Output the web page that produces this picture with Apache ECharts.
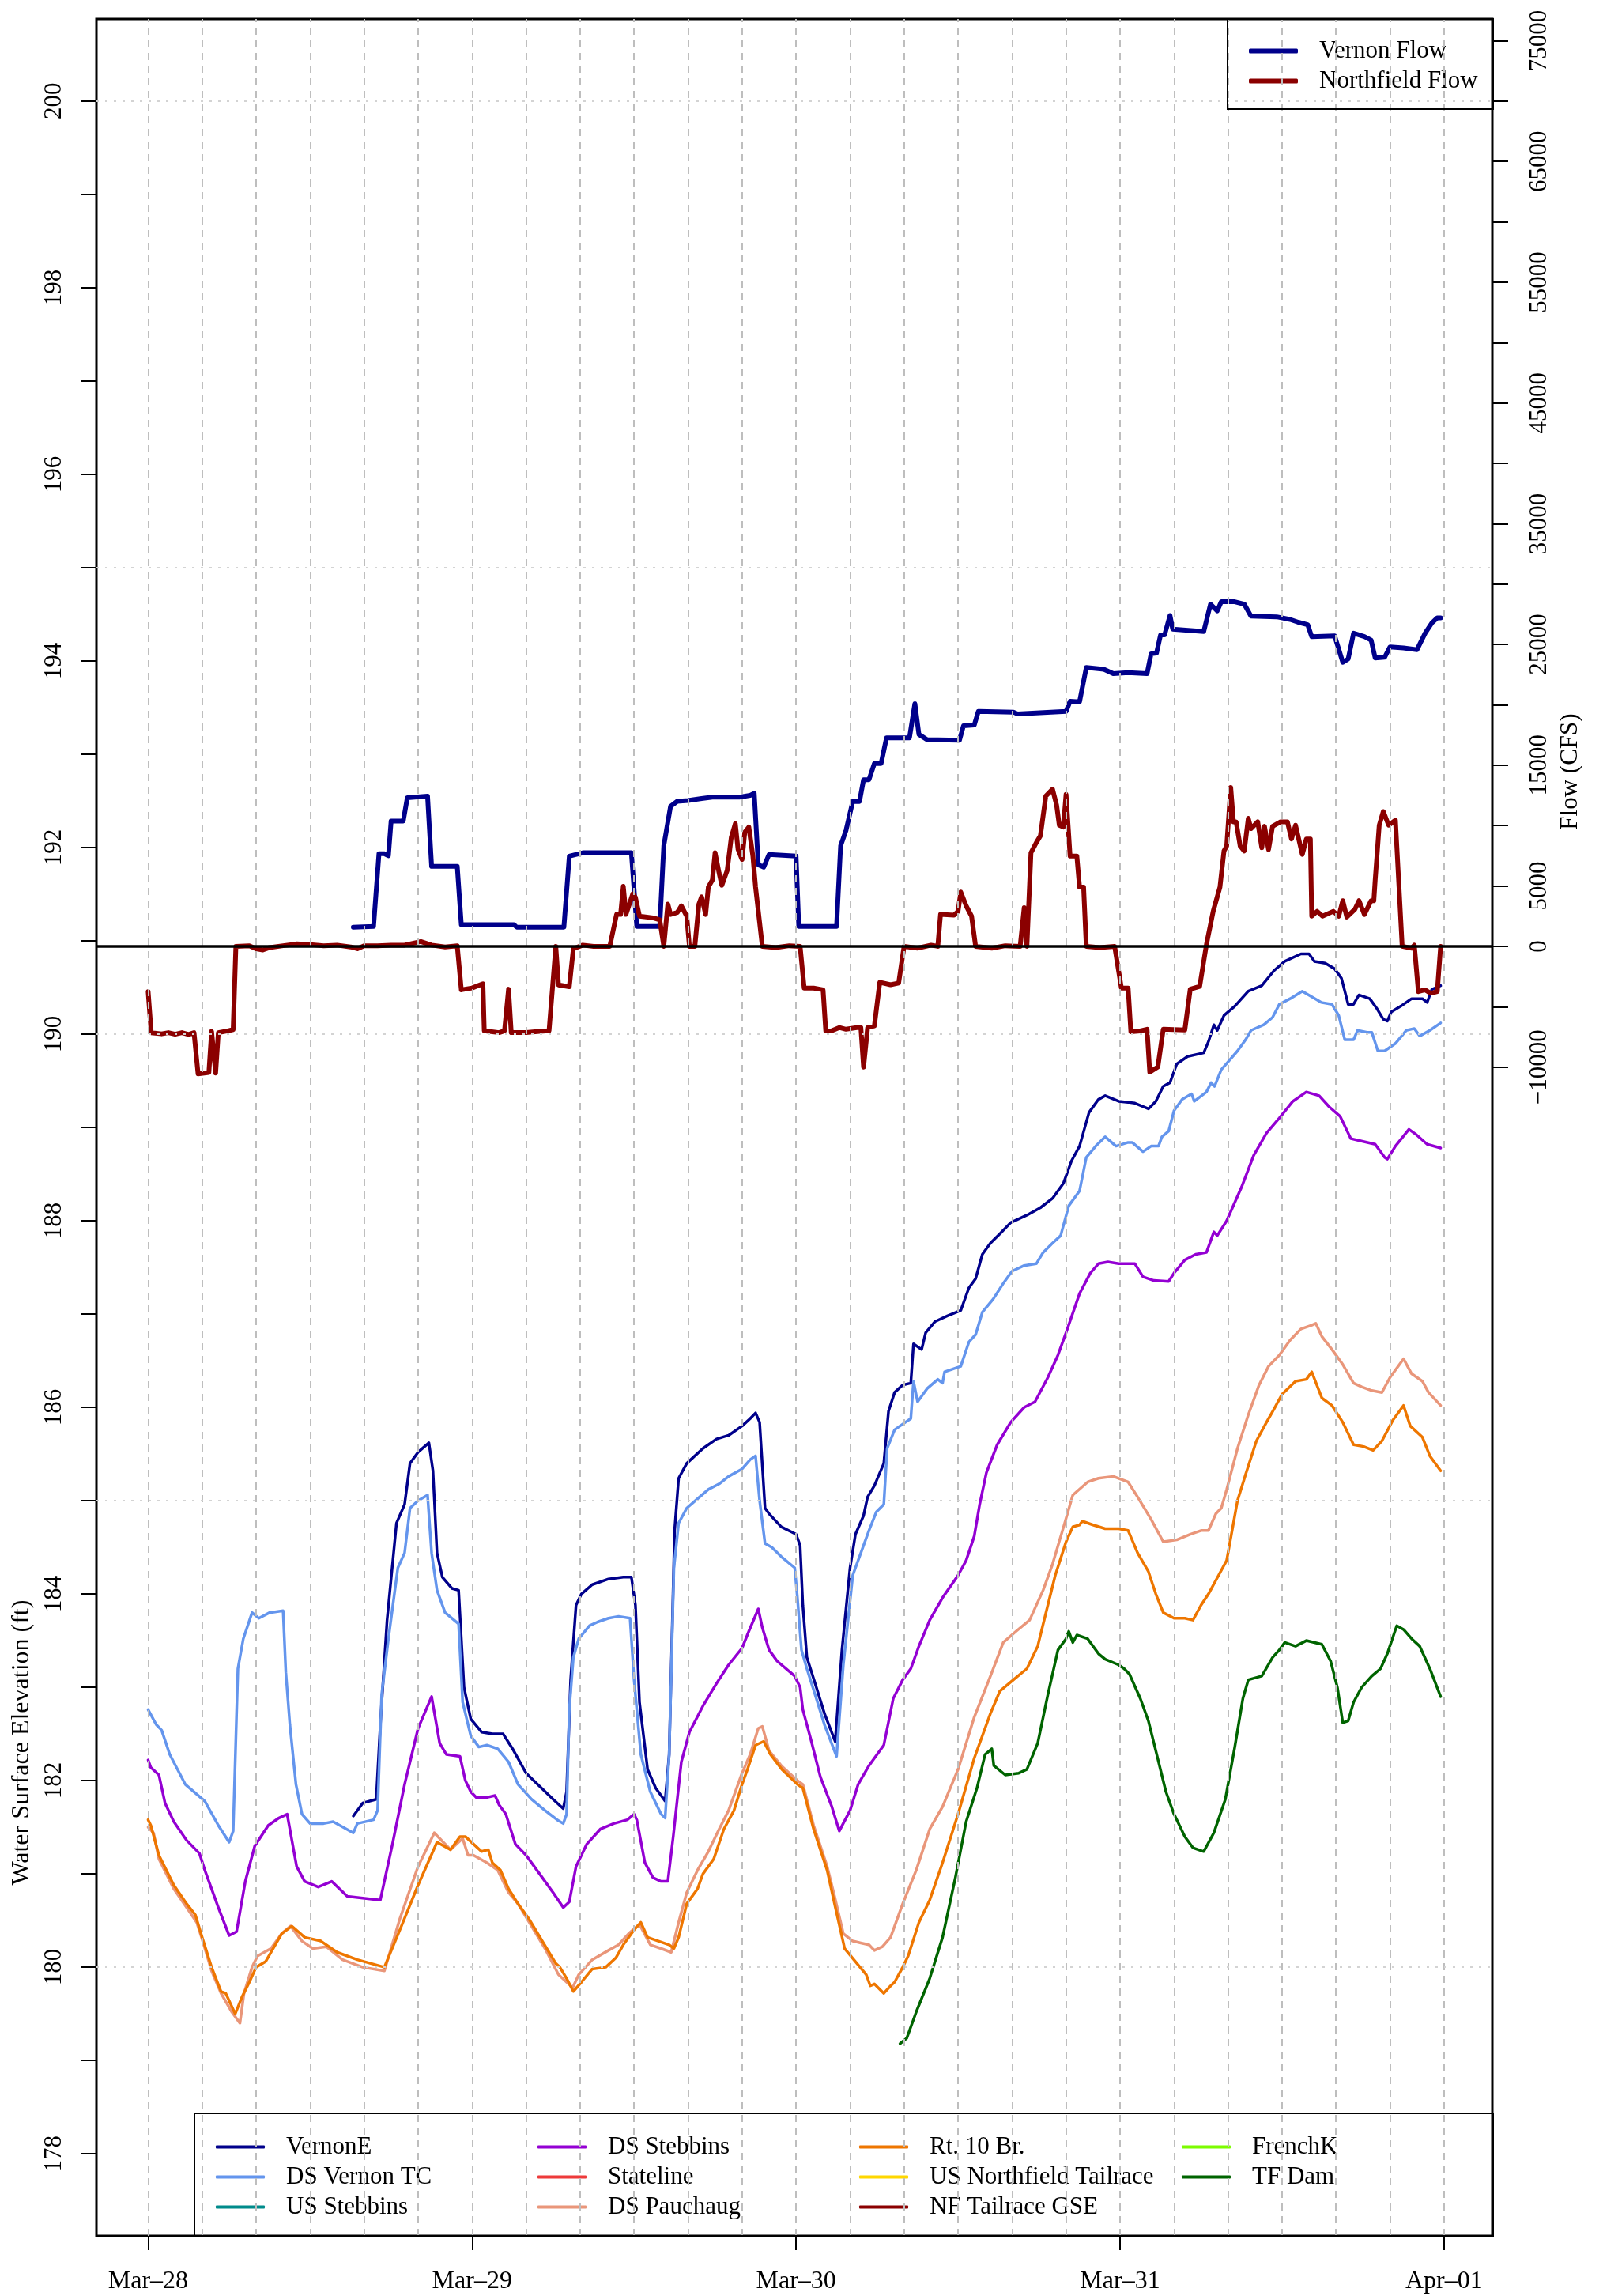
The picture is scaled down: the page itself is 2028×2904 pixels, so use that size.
<!DOCTYPE html>
<html><head><meta charset="utf-8">
<script src="https://cdn.jsdelivr.net/npm/echarts@6/dist/echarts.min.js"></script>
<style>html,body{margin:0;padding:0;background:#fff}#c{width:2028px;height:2904px}</style>
</head><body><div id="c"></div><script>
// ---------- DATA (time in hours from Mar-28 00:00) ----------
const xTickHours = [0, 24, 48, 72, 96];
const xTickLabels = ['Mar–28', 'Mar–29', 'Mar–30', 'Mar–31', 'Apr–01'];
const xGridHours = [0,4,8,12,16,20,24,28,32,36,40,44,48,52,56,60,64,68,72,76,80,84,88,92,96];
const elevTickVals = [178,179,180,181,182,183,184,185,186,187,188,189,190,191,192,193,194,195,196,197,198,199,200];
const elevLabelVals = [178,180,182,184,186,188,190,192,194,196,198,200];
const elevGridVals = [180,185,190,195,200];
const flowTickVals = [-10000,-5000,0,5000,10000,15000,20000,25000,30000,35000,40000,45000,50000,55000,60000,65000,70000,75000];
const flowLabelVals = [-10000,0,5000,15000,25000,35000,45000,55000,65000,75000];

const vernonFlow = [[15.2,1590],[16.7,1650],[17.1,7670],[17.5,7670],[17.8,7500],[18.0,10370],[18.9,10370],[19.2,12300],[20.7,12440],[21.0,6620],[22.9,6620],[23.2,1790],[25.0,1790],[26.5,1800],[27.1,1790],[27.3,1590],[30.8,1590],[31.2,7470],[32.2,7750],[35.8,7750],[36.2,1650],[37.9,1650],[38.2,8320],[38.7,11590],[39.2,12010],[40.0,12070],[41.0,12240],[41.8,12350],[43.8,12350],[44.6,12500],[44.9,12670],[45.2,6760],[45.6,6560],[46.0,7610],[48.0,7470],[48.2,1650],[51.0,1650],[51.3,8320],[51.7,9600],[52.2,12000],[52.7,12000],[53.0,13800],[53.4,13800],[53.8,15140],[54.3,15140],[54.7,17270],[56.4,17270],[56.8,20100],[57.1,17550],[57.7,17120],[60.1,17060],[60.4,18260],[61.2,18320],[61.5,19450],[64.1,19400],[64.4,19250],[68.0,19450],[68.3,20300],[69.0,20250],[69.5,23090],[70.8,22950],[71.5,22580],[72.6,22670],[74.0,22580],[74.3,24230],[74.7,24280],[75.0,25790],[75.3,25790],[75.7,27400],[75.9,26270],[78.2,26070],[78.7,28340],[79.2,27780],[79.5,28540],[80.5,28540],[81.2,28340],[81.7,27350],[83.6,27290],[84.6,27070],[85.2,26840],[85.9,26640],[86.2,25650],[87.9,25710],[88.5,23520],[88.9,23800],[89.3,25930],[90.1,25650],[90.6,25360],[90.9,23880],[91.6,23940],[92.0,24800],[93.0,24710],[94.0,24570],[94.6,25930],[95.1,26780],[95.5,27200],[95.75,27200]];

const northfieldFlow = [[0,-3750],[0.23,-7160],[1.0,-7250],[1.5,-7150],[2.0,-7280],[2.5,-7150],[3.0,-7300],[3.4,-7150],[3.7,-10560],[4.5,-10450],[4.7,-7050],[5.0,-10500],[5.2,-7150],[5.9,-7000],[6.3,-6900],[6.5,0],[7.5,50],[8.0,-200],[8.5,-300],[9.0,-100],[10.0,50],[11.0,200],[12.0,150],[13.0,50],[14.0,100],[15.0,-50],[15.5,-200],[16.0,50],[17.0,50],[18.0,100],[19.0,100],[20.2,400],[21.0,100],[22.0,-50],[22.9,50],[23.2,-3600],[24.0,-3450],[24.8,-3100],[24.9,-7000],[26.0,-7150],[26.4,-7000],[26.7,-3550],[26.9,-7150],[28.0,-7150],[29.0,-7050],[29.7,-7000],[30.2,0],[30.4,-3200],[31.2,-3350],[31.5,-200],[32.2,100],[33.0,0],[34.2,0],[34.7,2640],[35.0,2640],[35.2,4970],[35.4,2640],[35.9,4340],[36.1,4050],[36.4,2500],[37.4,2360],[37.9,2200],[38.2,0],[38.5,3500],[38.7,2640],[39.2,2800],[39.5,3350],[39.9,2500],[40.1,0],[40.5,0],[40.8,3500],[41.0,4100],[41.3,2640],[41.5,4900],[41.8,5500],[42.0,7750],[42.3,6050],[42.5,5050],[42.9,6300],[43.2,9030],[43.5,10170],[43.7,8040],[44.0,7190],[44.2,9450],[44.5,9880],[44.8,7470],[45.0,4900],[45.5,0],[46.5,-100],[47.5,50],[48.3,0],[48.6,-3460],[49.3,-3460],[50.0,-3600],[50.2,-7010],[50.6,-7010],[51.2,-6730],[51.7,-6870],[52.5,-6730],[52.8,-6730],[53.0,-10000],[53.3,-6730],[53.8,-6590],[54.2,-2980],[55.0,-3180],[55.6,-3040],[56.0,0],[57.0,-150],[58.0,100],[58.5,0],[58.7,2640],[59.7,2580],[60.0,2900],[60.2,4490],[60.6,3350],[61.0,2500],[61.3,0],[62.5,-150],[63.5,50],[64.6,0],[64.9,3210],[65.1,0],[65.4,7750],[65.8,8600],[66.1,9150],[66.5,12440],[67.0,13010],[67.3,11700],[67.5,10030],[67.8,9880],[68.0,12580],[68.3,7470],[68.8,7470],[69.0,4910],[69.3,4910],[69.5,0],[70.5,-100],[71.6,0],[72.1,-3460],[72.6,-3460],[72.8,-7070],[73.5,-7010],[74.0,-6870],[74.2,-10420],[74.8,-9990],[75.2,-6870],[76.8,-6930],[77.2,-3550],[77.9,-3320],[78.4,150],[78.9,2900],[79.4,4900],[79.7,7900],[79.9,8300],[80.2,13150],[80.4,10310],[80.6,10310],[80.9,8300],[81.2,7900],[81.5,10600],[81.7,9750],[82.2,10310],[82.5,8160],[82.7,9940],[83.0,8020],[83.3,9940],[83.9,10310],[84.4,10310],[84.7,8890],[85.0,10030],[85.5,7610],[85.8,8890],[86.1,8890],[86.2,2500],[86.6,2900],[87.0,2500],[87.8,2900],[88.2,2500],[88.5,3780],[88.8,2420],[89.4,3070],[89.7,3780],[90.1,2640],[90.6,3780],[90.8,3780],[90.9,5480],[91.2,10030],[91.5,11160],[91.9,10030],[92.4,10450],[92.9,0],[93.6,-150],[93.8,100],[94.1,-3750],[94.6,-3600],[95.0,-3890],[95.5,-3750],[95.75,0]];

const vernonE = [[15.2,181.62],[15.9,181.76],[16.9,181.8],[17.2,182.6],[17.7,183.72],[18.4,184.76],[19.0,184.96],[19.4,185.4],[20.0,185.52],[20.8,185.62],[21.1,185.32],[21.4,184.44],[21.8,184.18],[22.5,184.06],[23.0,184.04],[23.4,183.0],[23.9,182.66],[24.7,182.52],[25.5,182.5],[26.3,182.5],[27.0,182.34],[28.0,182.08],[29.0,181.94],[30.0,181.8],[30.75,181.7],[31.0,181.88],[31.3,183.08],[31.7,183.88],[32.1,184.0],[32.9,184.1],[34.1,184.16],[35.2,184.18],[35.8,184.18],[36.1,183.88],[36.4,182.84],[37.0,182.12],[37.6,181.92],[38.3,181.78],[38.6,182.28],[39.0,184.68],[39.3,185.24],[39.9,185.4],[41.1,185.56],[42.1,185.66],[43.0,185.7],[44.0,185.8],[44.6,185.88],[45.0,185.94],[45.3,185.84],[45.7,184.92],[46.0,184.86],[46.9,184.72],[48.0,184.64],[48.3,184.52],[48.5,183.88],[48.8,183.32],[49.5,183.0],[50.1,182.72],[50.9,182.42],[51.4,183.4],[52.0,184.28],[52.4,184.64],[53.0,184.84],[53.3,185.04],[53.8,185.16],[54.5,185.4],[54.85,185.96],[55.3,186.16],[55.9,186.24],[56.5,186.26],[56.7,186.68],[57.3,186.62],[57.6,186.8],[58.3,186.92],[59.2,186.98],[60.2,187.04],[60.8,187.28],[61.3,187.38],[61.8,187.64],[62.4,187.76],[63.1,187.86],[63.9,187.98],[65.1,188.06],[66.1,188.14],[67.0,188.24],[67.8,188.4],[68.4,188.64],[69.0,188.8],[69.7,189.16],[70.4,189.3],[70.9,189.34],[71.9,189.28],[72.6,189.27],[73.1,189.26],[74.1,189.2],[74.65,189.28],[75.2,189.44],[75.7,189.48],[76.2,189.68],[77.0,189.76],[78.2,189.8],[78.55,189.92],[78.95,190.1],[79.2,190.04],[79.7,190.2],[80.5,190.3],[81.5,190.46],[82.5,190.52],[83.4,190.68],[84.2,190.78],[85.4,190.86],[86.0,190.86],[86.4,190.78],[87.2,190.76],[87.9,190.7],[88.4,190.6],[88.9,190.32],[89.3,190.32],[89.7,190.42],[90.5,190.38],[91.0,190.28],[91.5,190.16],[91.8,190.14],[92.1,190.24],[92.8,190.3],[93.6,190.38],[94.4,190.38],[94.75,190.34],[95.1,190.48],[95.75,190.52]];

const dsVernonTC = [[0,182.76],[0.6,182.6],[1.0,182.54],[1.6,182.28],[2.75,181.96],[4.2,181.78],[5.2,181.52],[6.0,181.34],[6.3,181.46],[6.65,183.2],[7.05,183.52],[7.7,183.8],[8.2,183.74],[9.0,183.8],[10.0,183.82],[10.2,183.16],[10.5,182.6],[10.95,181.96],[11.4,181.64],[12.0,181.54],[13.0,181.54],[13.7,181.56],[15.2,181.44],[15.5,181.54],[16.7,181.58],[17.0,181.68],[17.3,182.92],[17.8,183.52],[18.5,184.28],[19.0,184.44],[19.4,184.92],[20.0,185.0],[20.7,185.06],[21.0,184.44],[21.4,184.04],[22.0,183.8],[23.0,183.68],[23.3,182.84],[23.9,182.48],[24.5,182.36],[25.1,182.38],[25.9,182.34],[26.7,182.2],[27.4,181.96],[28.4,181.8],[29.4,181.68],[30.3,181.58],[30.75,181.54],[31.0,181.64],[31.2,182.76],[31.5,183.32],[31.9,183.52],[32.7,183.66],[33.3,183.7],[34.1,183.74],[34.85,183.76],[35.7,183.74],[36.0,183.08],[36.5,182.28],[37.2,181.88],[38.0,181.64],[38.3,181.6],[38.6,182.28],[38.95,184.28],[39.3,184.76],[39.9,184.92],[40.7,185.02],[41.5,185.12],[42.3,185.18],[43.0,185.26],[44.0,185.34],[44.6,185.44],[45.0,185.48],[45.3,185.0],[45.7,184.54],[46.2,184.5],[46.9,184.4],[47.9,184.28],[48.1,183.96],[48.4,183.4],[48.8,183.2],[49.5,182.88],[50.1,182.6],[51.0,182.26],[51.5,183.24],[52.2,184.2],[52.8,184.44],[53.4,184.68],[53.95,184.88],[54.5,184.96],[54.75,185.56],[55.3,185.76],[56.1,185.84],[56.5,185.88],[56.7,186.28],[57.0,186.06],[57.7,186.2],[58.5,186.3],[58.85,186.26],[59.0,186.38],[60.2,186.44],[60.8,186.7],[61.3,186.78],[61.8,187.02],[62.6,187.16],[63.4,187.34],[64.0,187.46],[64.9,187.52],[65.8,187.54],[66.3,187.66],[67.0,187.76],[67.6,187.84],[68.2,188.16],[69.0,188.32],[69.5,188.68],[70.2,188.8],[70.9,188.9],[71.7,188.8],[72.6,188.84],[72.9,188.84],[73.7,188.74],[74.3,188.8],[74.85,188.8],[75.1,188.9],[75.6,188.96],[76.0,189.18],[76.6,189.3],[77.3,189.36],[77.5,189.28],[78.4,189.38],[78.75,189.48],[79.0,189.44],[79.5,189.62],[80.1,189.72],[80.7,189.82],[81.3,189.94],[81.7,190.04],[82.65,190.1],[83.3,190.18],[83.8,190.32],[84.6,190.38],[85.5,190.46],[86.2,190.4],[86.9,190.34],[87.7,190.32],[88.2,190.2],[88.65,189.94],[89.3,189.94],[89.6,190.04],[90.3,190.02],[90.65,190.02],[91.1,189.82],[91.6,189.82],[92.4,189.9],[93.2,190.04],[93.8,190.06],[94.2,189.98],[94.95,190.04],[95.75,190.12]];

const usStebbins = [];

const dsStebbins = [[0,182.22],[0.2,182.14],[0.8,182.06],[1.25,181.76],[1.9,181.56],[2.85,181.36],[3.8,181.22],[4.2,181.04],[5.2,180.64],[6.0,180.34],[6.55,180.38],[7.2,180.92],[7.9,181.3],[8.9,181.52],[9.7,181.6],[10.3,181.64],[11.0,181.08],[11.6,180.92],[12.6,180.86],[13.6,180.92],[14.75,180.76],[15.9,180.74],[17.2,180.72],[18.1,181.32],[19.0,181.96],[20.0,182.56],[21.0,182.9],[21.6,182.4],[22.1,182.28],[23.1,182.26],[23.5,182.0],[23.9,181.88],[24.3,181.82],[25.1,181.82],[25.7,181.84],[26.0,181.74],[26.5,181.64],[27.2,181.32],[28.0,181.2],[29.0,181.0],[30.0,180.8],[30.75,180.64],[31.2,180.7],[31.7,181.08],[32.5,181.32],[33.5,181.48],[34.5,181.54],[35.5,181.58],[36.0,181.64],[36.2,181.58],[36.8,181.12],[37.4,180.96],[38.0,180.92],[38.5,180.92],[38.9,181.4],[39.5,182.2],[40.1,182.52],[41.1,182.8],[42.1,183.04],[43.0,183.24],[44.0,183.42],[44.5,183.6],[45.2,183.84],[45.5,183.64],[46.0,183.4],[46.6,183.28],[47.9,183.12],[48.3,183.0],[48.5,182.76],[49.1,182.44],[49.8,182.04],[50.65,181.72],[51.2,181.46],[52.0,181.68],[52.6,181.96],[53.4,182.16],[54.5,182.38],[55.2,182.88],[55.9,183.08],[56.5,183.2],[57.1,183.44],[57.9,183.72],[58.85,183.96],[60.0,184.2],[60.6,184.36],[61.2,184.62],[61.6,184.96],[62.1,185.3],[62.9,185.6],[63.9,185.84],[64.9,186.0],[65.7,186.06],[66.65,186.32],[67.4,186.56],[68.0,186.8],[69.0,187.22],[69.8,187.44],[70.4,187.54],[71.1,187.56],[71.9,187.54],[72.6,187.54],[73.1,187.54],[73.7,187.4],[74.5,187.36],[75.6,187.35],[76.0,187.44],[76.8,187.58],[77.6,187.64],[78.4,187.66],[78.95,187.88],[79.2,187.84],[79.9,188.0],[81.0,188.36],[81.9,188.7],[82.85,188.94],[83.8,189.1],[84.8,189.28],[85.8,189.38],[86.75,189.34],[87.5,189.22],[88.3,189.12],[89.1,188.88],[89.7,188.86],[90.9,188.82],[91.6,188.68],[91.8,188.66],[92.4,188.8],[93.4,188.98],[93.97,188.92],[94.75,188.82],[95.75,188.78]];

const stateline = [];

const dsPauchaug = [[0,181.5],[0.4,181.44],[0.8,181.16],[1.9,180.84],[2.85,180.64],[3.6,180.48],[4.0,180.3],[4.7,179.96],[5.4,179.72],[6.2,179.52],[6.8,179.4],[7.1,179.72],[7.7,180.0],[8.1,180.12],[9.1,180.2],[9.9,180.36],[10.55,180.44],[11.4,180.28],[12.2,180.2],[13.2,180.22],[14.4,180.08],[15.9,180.0],[17.5,179.96],[18.65,180.52],[20.0,181.08],[21.2,181.44],[22.4,181.26],[23.3,181.38],[23.7,181.2],[24.1,181.2],[25.1,181.12],[25.9,181.04],[26.7,180.8],[27.4,180.68],[28.4,180.44],[29.4,180.2],[30.4,179.92],[31.0,179.84],[31.45,179.78],[31.9,179.92],[32.9,180.08],[34.1,180.18],[34.85,180.24],[35.6,180.36],[36.4,180.46],[37.2,180.24],[38.0,180.2],[38.75,180.16],[39.3,180.48],[39.9,180.8],[40.7,181.04],[41.5,181.24],[42.3,181.48],[43.0,181.68],[44.0,182.08],[44.6,182.28],[45.2,182.56],[45.5,182.58],[46.0,182.32],[46.9,182.16],[48.1,182.0],[48.5,181.96],[49.3,181.52],[50.3,181.08],[50.85,180.76],[51.5,180.36],[52.2,180.28],[52.8,180.26],[53.4,180.24],[53.8,180.18],[54.4,180.22],[55.0,180.32],[55.9,180.68],[56.9,181.04],[57.9,181.48],[58.85,181.72],[60.0,182.12],[61.2,182.68],[62.4,183.12],[63.35,183.48],[64.3,183.6],[65.3,183.72],[66.3,184.04],[67.0,184.32],[67.9,184.76],[68.5,185.06],[69.6,185.2],[70.4,185.24],[71.5,185.26],[72.6,185.2],[73.3,185.04],[74.3,184.8],[75.2,184.56],[76.2,184.58],[77.2,184.64],[78.0,184.68],[78.55,184.68],[79.1,184.86],[79.5,184.92],[79.9,185.12],[80.7,185.56],[81.5,185.92],[82.3,186.24],[83.0,186.44],[83.8,186.56],[84.6,186.72],[85.4,186.84],[86.2,186.88],[86.5,186.9],[86.95,186.76],[87.7,186.62],[88.5,186.46],[89.3,186.26],[89.9,186.22],[90.65,186.18],[91.4,186.16],[92.0,186.32],[92.5,186.42],[93.0,186.52],[93.6,186.36],[94.4,186.28],[94.85,186.16],[95.75,186.02]];

const rt10Br = [[0,181.58],[0.2,181.52],[0.8,181.2],[1.9,180.88],[2.85,180.68],[3.5,180.56],[4.0,180.32],[4.7,180.0],[5.4,179.74],[5.75,179.72],[6.45,179.5],[6.95,179.68],[7.5,179.84],[8.0,180.0],[8.7,180.06],[9.9,180.36],[10.65,180.44],[11.6,180.32],[12.8,180.28],[14.0,180.16],[15.5,180.08],[16.5,180.04],[17.5,180.0],[18.65,180.4],[20.0,180.88],[21.4,181.34],[22.4,181.26],[23.1,181.4],[23.5,181.4],[24.1,181.32],[24.7,181.24],[25.2,181.26],[25.5,181.12],[26.1,181.04],[26.7,180.84],[27.4,180.68],[28.2,180.52],[29.2,180.28],[30.2,180.04],[30.5,180.0],[31.0,179.88],[31.5,179.74],[32.1,179.84],[32.9,179.98],[33.9,180.0],[34.65,180.1],[35.2,180.24],[36.0,180.4],[36.5,180.48],[37.0,180.32],[37.8,180.28],[38.6,180.24],[38.95,180.2],[39.3,180.32],[39.9,180.68],[40.7,180.84],[41.1,181.0],[41.9,181.16],[42.65,181.48],[43.4,181.68],[44.0,181.96],[44.4,182.12],[45.0,182.38],[45.6,182.42],[46.1,182.28],[46.95,182.12],[48.1,181.96],[48.5,181.92],[49.3,181.48],[50.3,181.04],[50.85,180.68],[51.6,180.2],[52.4,180.06],[53.2,179.92],[53.5,179.8],[53.8,179.82],[54.5,179.72],[55.0,179.8],[55.3,179.84],[55.9,180.0],[56.3,180.12],[57.1,180.48],[57.9,180.72],[58.85,181.12],[60.0,181.64],[61.2,182.24],[62.4,182.72],[63.1,182.96],[64.1,183.08],[65.1,183.2],[65.9,183.44],[66.65,183.88],[67.2,184.2],[68.0,184.56],[68.5,184.72],[69.0,184.74],[69.2,184.78],[70.0,184.74],[70.9,184.7],[71.9,184.7],[72.6,184.68],[73.3,184.44],[74.1,184.24],[74.65,184.0],[75.2,183.8],[76.0,183.74],[76.8,183.74],[77.4,183.72],[78.0,183.88],[78.55,184.0],[79.3,184.2],[79.9,184.36],[80.3,184.68],[80.7,185.0],[81.3,185.28],[82.1,185.64],[82.85,185.84],[83.4,185.98],[84.0,186.14],[85.0,186.28],[85.8,186.3],[86.2,186.38],[86.95,186.1],[87.7,186.02],[88.5,185.84],[89.3,185.6],[90.05,185.58],[90.75,185.54],[91.4,185.64],[92.2,185.86],[93.0,186.02],[93.5,185.8],[94.4,185.68],[94.95,185.48],[95.75,185.32]];

const usNorthfieldTailrace = [];
const nfTailraceGSE = [];
const frenchK = [];

const tfDam = [[55.7,179.18],[56.2,179.24],[56.9,179.52],[57.9,179.88],[58.85,180.32],[59.8,180.96],[60.6,181.56],[61.4,181.92],[62.0,182.28],[62.5,182.34],[62.65,182.16],[63.5,182.06],[64.5,182.08],[65.1,182.12],[65.9,182.4],[66.65,182.92],[67.4,183.4],[68.0,183.52],[68.2,183.6],[68.5,183.48],[68.8,183.56],[69.6,183.52],[70.4,183.36],[70.9,183.3],[71.9,183.24],[72.3,183.2],[72.7,183.14],[73.5,182.88],[74.1,182.64],[74.65,182.32],[75.4,181.88],[76.0,181.64],[76.8,181.4],[77.4,181.28],[78.2,181.24],[78.95,181.44],[79.8,181.8],[80.5,182.36],[81.1,182.88],[81.5,183.08],[82.5,183.12],[83.3,183.32],[83.8,183.4],[84.2,183.48],[85.0,183.44],[85.8,183.5],[86.95,183.46],[87.6,183.28],[88.1,183.0],[88.5,182.62],[88.9,182.64],[89.3,182.84],[89.9,183.0],[90.65,183.12],[91.3,183.2],[91.8,183.36],[92.5,183.66],[93.0,183.62],[93.6,183.52],[94.2,183.44],[94.95,183.2],[95.75,182.9]];

const elevNames = ['VernonE','DS Vernon TC','US Stebbins','DS Stebbins','Stateline','DS Pauchaug','Rt. 10 Br.','US Northfield Tailrace','NF Tailrace GSE','FrenchK','TF Dam'];
const elevData = [vernonE, dsVernonTC, usStebbins, dsStebbins, stateline, dsPauchaug, rt10Br, usNorthfieldTailrace, nfTailraceGSE, frenchK, tfDam];
const elevColors = ['#00008B','#6495ED','#008B8B','#9400D3','#EE3B3B','#E9967A','#EE7600','#FFD700','#8B0000','#7CFC00','#006400'];
const flowNames = ['Vernon Flow','Northfield Flow'];
const flowColors = ['#00008B','#8B0000'];

// ---------- CHART ----------
const FONT = 'Liberation Serif';
const chart = echarts.init(document.getElementById('c'), null, {renderer:'canvas'});

const series = [];
elevNames.forEach((n,i) => series.push({
  name:n, type:'line', yAxisIndex:0, data:elevData[i], symbol:'none', showSymbol:false,
  color: elevColors[i], lineStyle:{width:3.5, color:elevColors[i], join:'round', cap:'round'},
  z:2, silent:true, animation:false
}));
[vernonFlow, northfieldFlow].forEach((d,i) => series.push({
  name:flowNames[i], type:'line', yAxisIndex:1, data:d, symbol:'none', showSymbol:false,
  color: flowColors[i], lineStyle:{width:6, color:flowColors[i], join:'round', cap:'round'},
  z:3, silent:true, animation:false
}));
// grid lines (drawn on top like the reference)
series.push({
  name:'_grid', type:'line', yAxisIndex:0, data:[[-3,190]], symbol:'none', lineStyle:{opacity:0},
  z:5, silent:true, animation:false,
  markLine:{silent:true, symbol:['none','none'], label:{show:false}, animation:false,
    data: xGridHours.map(h => ({xAxis:h, lineStyle:{color:'#BEBEBE', width:2, type:[9,7]}}))
      .concat(elevGridVals.map(v => ({yAxis:v, lineStyle:{color:'#D3D3D3', width:2, type:[3,8]}})))
  }
});
// zero flow line
series.push({
  name:'_zero', type:'line', yAxisIndex:1, data:[[-3,0]], symbol:'none', lineStyle:{opacity:0},
  z:6, silent:true, animation:false,
  markLine:{silent:true, symbol:['none','none'], label:{show:false}, animation:false,
    data:[{yAxis:0, lineStyle:{color:'#000', width:3.5, type:'solid'}}]}
});

const lgText = {fontFamily:FONT, fontSize:31, color:'#000', lineHeight:31, padding:[0,0,0,22]};
function colLegend(names, left, top, ih) {
  return {data:names, orient:'vertical', left:left, top:top, padding:0, itemGap:7,
    itemWidth:62, itemHeight:ih, icon:'roundRect', selectedMode:false, textStyle:lgText};
}

const option = {
  animation:false,
  backgroundColor:'#fff',
  grid:{left:122, right:140, top:24, bottom:76, show:true, borderColor:'#000', borderWidth:3, backgroundColor:'transparent'},
  xAxis:{type:'value', min:-3.83, max:99.58,
    axisLine:{show:false, onZero:false}, splitLine:{show:false},
    axisTick:{show:true, length:18, lineStyle:{color:'#000', width:2}, customValues:xTickHours},
    axisLabel:{customValues:xTickHours, formatter:v => xTickLabels[xTickHours.indexOf(v)],
      margin:42, fontFamily:FONT, fontSize:32, color:'#000'}},
  yAxis:[
    {type:'value', position:'left', min:177.12, max:200.88,
      axisLine:{show:false, onZero:false}, splitLine:{show:false},
      axisTick:{show:true, length:20, lineStyle:{color:'#000', width:2}, customValues:elevTickVals},
      axisLabel:{customValues:elevLabelVals, rotate:90, margin:38, fontFamily:FONT, fontSize:31, color:'#000'}},
    {type:'value', position:'right', min:-106800, max:76800,
      axisLine:{show:false, onZero:false}, splitLine:{show:false},
      axisTick:{show:true, length:20, lineStyle:{color:'#000', width:2}, customValues:flowTickVals},
      axisLabel:{customValues:flowLabelVals, rotate:90, margin:44, fontFamily:FONT, fontSize:31, color:'#000',
        formatter:v => (v < 0 ? '\u2212' + Math.abs(v) : String(v))}}
  ],
  legend:[
    colLegend(flowNames, 1580, 49, 6),
    colLegend(elevNames.slice(0,3), 273, 2700, 4),
    colLegend(elevNames.slice(3,6), 680, 2700, 4),
    colLegend(elevNames.slice(6,9), 1087, 2700, 4),
    colLegend(elevNames.slice(9,11), 1495, 2700, 4)
  ],
  graphic:[
    {type:'rect', shape:{x:1553, y:24, width:336, height:114}, style:{fill:'none', stroke:'#000', lineWidth:2}, z:10, silent:true},
    {type:'rect', shape:{x:246, y:2673, width:1643, height:155}, style:{fill:'none', stroke:'#000', lineWidth:2}, z:10, silent:true},
    {type:'text', x:28, y:2204, rotation:Math.PI/2, silent:true,
      style:{text:'Water Surface Elevation (ft)', fontFamily:FONT, fontSize:32, fill:'#000', align:'center', verticalAlign:'middle'}},
    {type:'text', x:1987, y:976, rotation:Math.PI/2, silent:true,
      style:{text:'Flow (CFS)', fontFamily:FONT, fontSize:31, fill:'#000', align:'center', verticalAlign:'middle'}}
  ],
  series:series
};
chart.setOption(option);
</script></body></html>
